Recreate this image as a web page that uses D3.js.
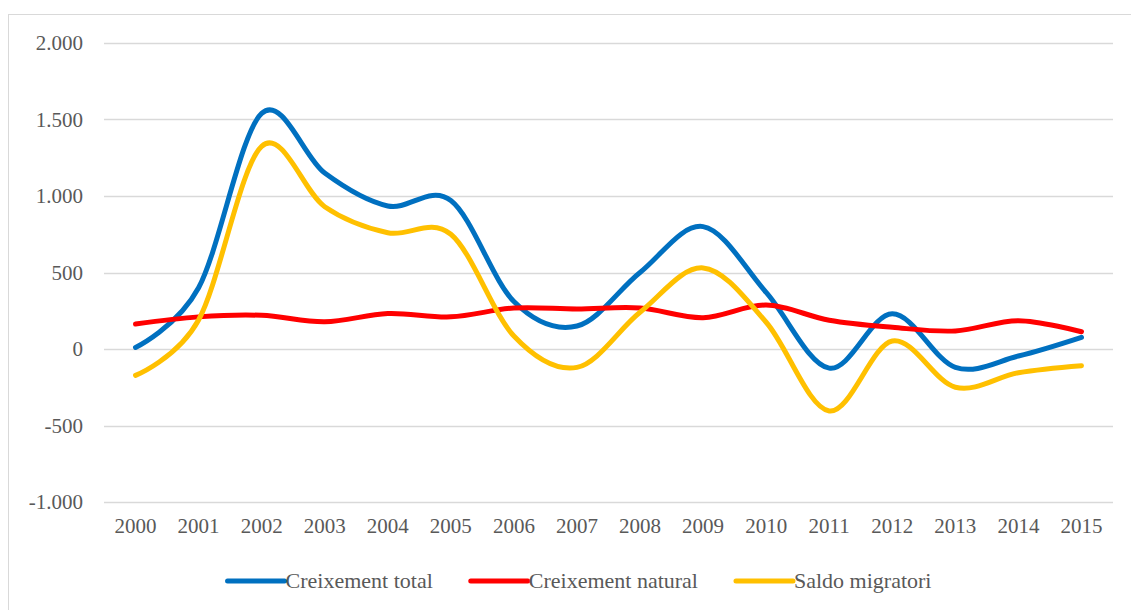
<!DOCTYPE html>
<html>
<head>
<meta charset="utf-8">
<script src="https://cdn.jsdelivr.net/npm/d3@7"></script>
<style>
  body { margin: 0; background: #fff; }
  text { font-family: "Liberation Serif", "Times New Roman", "DejaVu Serif", "Noto Serif", Times, serif; fill: #595959; }
</style>
</head>
<body>
<svg id="grafic"></svg>
<script>
// Dades llegides del gràfic
var anys = ["2000", "2001", "2002", "2003", "2004", "2005", "2006", "2007",
            "2008", "2009", "2010", "2011", "2012", "2013", "2014", "2015"];
var creixementTotal = [10, 400, 1540, 1150, 935, 970, 310, 150, 500, 800, 370, -125, 230, -120, -46, 76];
var creixementNatural = [163, 210, 220, 178, 232, 210, 268, 262, 268, 205, 287, 188, 142, 118, 185, 113];
var saldoMigratori = [-172, 190, 1325, 930, 760, 750, 85, -120, 240, 530, 175, -405, 52, -250, -155, -109];
var ticksY = [-1000, -500, 0, 500, 1000, 1500, 2000];

var series = [
    { nom: "Creixement total", valors: creixementTotal, color: "#0070C0" },
    { nom: "Creixement natural", valors: creixementNatural, color: "#FF0000" },
    { nom: "Saldo migratori", valors: saldoMigratori, color: "#FFC000" }
];

const width = 1131, height = 610;
const svg = d3.select("#grafic")
    .attr("width", width)
    .attr("height", height);

// marc del gràfic
svg.append("rect")
    .attr("x", 8.5).attr("y", 14.5)
    .attr("width", 1140).attr("height", 620)
    .attr("fill", "none")
    .attr("stroke", "#D9D9D9")
    .attr("stroke-width", 1);

const x = d3.scaleBand()
    .domain(anys)
    .range([104, 1113]);

const y = d3.scaleLinear()
    .domain([-1000, 2000])
    .range([502, 43]);

// format amb punt de milers i guió normal
const fmt = d3.formatLocale({ decimal: ",", thousands: ".", grouping: [3], currency: ["", "€"], minus: "-" }).format(",d");

// graella horitzontal
svg.append("g")
    .selectAll("line")
    .data(ticksY)
    .join("line")
    .attr("x1", 104).attr("x2", 1113)
    .attr("y1", d => Math.round(y(d)) + 0.5)
    .attr("y2", d => Math.round(y(d)) + 0.5)
    .attr("stroke", "#D9D9D9")
    .attr("stroke-width", 1.5);

// eix Y
const eixY = d3.axisLeft(y).tickValues(ticksY).tickFormat(d => fmt(d)).tickSize(0).tickPadding(0);
svg.append("g")
    .attr("transform", "translate(83,0)")
    .call(eixY)
    .call(g => g.select(".domain").remove())
    .attr("font-family", null)
    .selectAll("text")
    .attr("font-size", "21px")
    .attr("fill", "#595959");

// eix X
const eixX = d3.axisBottom(x).tickSize(0).tickPadding(0);
svg.append("g")
    .attr("transform", "translate(0,518)")
    .call(eixX)
    .call(g => g.select(".domain").remove())
    .attr("font-family", null)
    .selectAll("text")
    .attr("font-size", "21px")
    .attr("fill", "#595959");

// línies suavitzades
const linia = d3.line()
    .x((d, i) => x(anys[i]) + x.bandwidth() / 2)
    .y(d => y(d))
    .curve(d3.curveCardinal.tension(0));

series.forEach(function (s) {
    svg.append("path")
        .attr("d", linia(s.valors))
        .attr("fill", "none")
        .attr("stroke", s.color)
        .attr("stroke-width", 5)
        .attr("stroke-linecap", "round")
        .attr("stroke-linejoin", "round");
});

// llegenda
const llegenda = svg.append("g");
var posX = 0;
series.forEach(function (s, i) {
    const g = llegenda.append("g").attr("transform", "translate(" + posX + ",0)");
    g.append("line")
        .attr("x1", 2).attr("x2", 59)
        .attr("y1", 0).attr("y2", 0)
        .attr("stroke", s.color)
        .attr("stroke-width", 5)
        .attr("stroke-linecap", "round");
    const t = g.append("text")
        .attr("x", 60)
        .attr("y", 0)
        .attr("dy", "0.32em")
        .attr("font-size", "22px")
        .text(s.nom);
    posX += 60 + t.node().getComputedTextLength() + 36;
});
const ampleLlegenda = posX - 36;
llegenda.attr("transform", "translate(" + (578.5 - ampleLlegenda / 2) + ",581)");
</script>
</body>
</html>
